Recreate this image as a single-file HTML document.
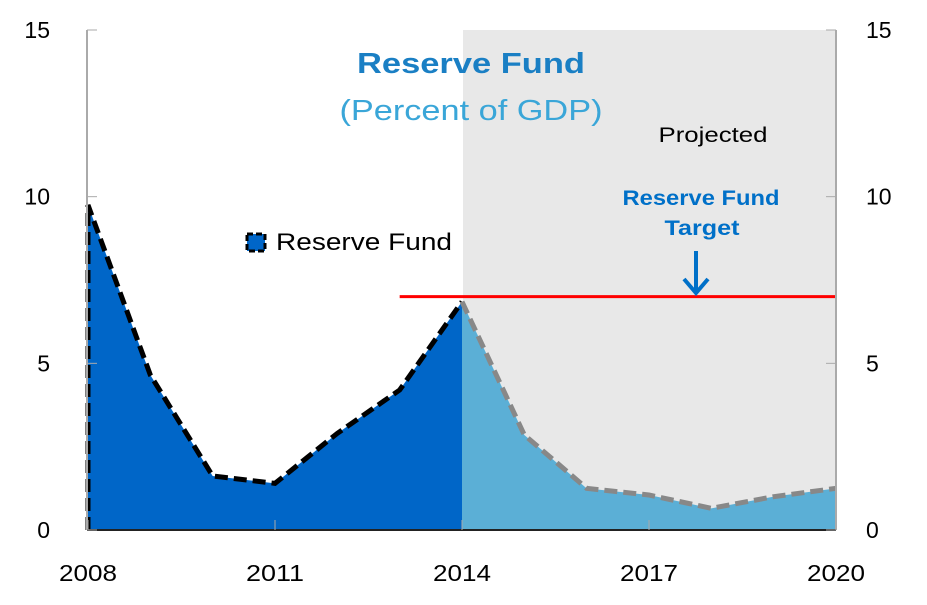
<!DOCTYPE html>
<html><head><meta charset="utf-8"><style>
body{margin:0;background:#fff;width:927px;height:600px;overflow:hidden}
svg{font-family:"Liberation Sans","DejaVu Sans",sans-serif}
</style></head><body>
<svg id="c" width="927" height="600">
<rect x="463" y="30" width="373" height="500" fill="#e8e8e8"/>
<g id="g"></g>
<text x="471" y="73" text-anchor="middle" font-size="29" font-weight="bold" fill="#1a7fc4" textLength="228" lengthAdjust="spacingAndGlyphs">Reserve Fund</text>
<text x="471" y="120" text-anchor="middle" font-size="29" fill="#3aa6d8" textLength="263" lengthAdjust="spacingAndGlyphs">(Percent of GDP)</text>
<text x="713" y="142" text-anchor="middle" font-size="21" fill="#000" textLength="109" lengthAdjust="spacingAndGlyphs">Projected</text>
<text x="701" y="205" text-anchor="middle" font-size="21" font-weight="bold" fill="#0070c8" textLength="157" lengthAdjust="spacingAndGlyphs">Reserve Fund</text>
<text x="702" y="235" text-anchor="middle" font-size="21" font-weight="bold" fill="#0070c8" textLength="75" lengthAdjust="spacingAndGlyphs">Target</text>
<g stroke="#0070c8" stroke-width="4" fill="none"><line x1="696" y1="251" x2="696" y2="293"/><polyline points="684,279 696,293 708,279"/></g>
<g><rect x="247" y="234" width="18" height="17" fill="#0066c8" stroke="#000" stroke-width="3" stroke-dasharray="6,3"/><text x="276" y="250" font-size="24" fill="#000" textLength="176" lengthAdjust="spacingAndGlyphs">Reserve Fund</text></g>
</svg>
<script>
const years=[2008,2009,2010,2011,2012,2013,2014,2015,2016,2017,2018,2019,2020];
const fund=[9.75,4.65,1.62,1.4,2.9,4.2,6.85,2.85,1.25,1.05,0.65,1.0,1.25];
const target=7;
const targetStart=2013;
const projStart=2014;
const yTicks=[0,5,10,15];
const xTicks=[2008,2011,2014,2017,2020];
const X=y=>88+(y-2008)*(836-88)/12;
const Y=v=>530-v*500/15;
const g=document.getElementById('g');
const NS='http://www.w3.org/2000/svg';
function mk(t,a,p){const e=document.createElementNS(NS,t);for(const k in a)e.setAttribute(k,a[k]);(p||g).appendChild(e);return e;}
const pi=years.indexOf(projStart);
let h=years.slice(0,pi+1).map((y,i)=>X(y)+','+Y(fund[i])).join(' ');
let a=mk('polygon',{points:X(years[0])+','+Y(0)+' '+h+' '+X(projStart)+','+Y(0),fill:'#0066c8'});


let h2=years.slice(pi).map((y,i)=>X(y)+','+Y(fund[pi+i])).join(' ');
let b=mk('polygon',{points:X(projStart)+','+Y(0)+' '+h2+' '+X(2020)+','+Y(0),fill:'#5bafd6'});


let l1=mk('polyline',{points:X(years[0])+','+Y(0)+' '+h,fill:'none',stroke:'#000','stroke-width':5,'stroke-dasharray':'13,6'});


let l2=mk('polyline',{points:h2,fill:'none',stroke:'#888','stroke-width':5,'stroke-dasharray':'13,6'});


let tl=mk('line',{x1:X(targetStart),x2:836,y1:Y(target),y2:Y(target),stroke:'#f00','stroke-width':3});


mk('line',{x1:87,x2:87,y1:30,y2:530,stroke:'#aaa','stroke-width':2});
mk('line',{x1:836,x2:836,y1:30,y2:530,stroke:'#aaa','stroke-width':2});
mk('line',{x1:87,x2:836,y1:530,y2:530,stroke:'#222','stroke-width':2});
yTicks.forEach(v=>{
 mk('line',{x1:87,x2:97,y1:Y(v),y2:Y(v),stroke:'#aaa'});
 mk('line',{x1:826,x2:836,y1:Y(v),y2:Y(v),stroke:'#aaa'});
 let t=mk('text',{x:50,y:Y(v)+8,'text-anchor':'end','font-size':23});t.textContent=v;
 
 
 let t2=mk('text',{x:866,y:Y(v)+8,'font-size':23});t2.textContent=v;
 
 
});
xTicks.forEach(v=>{
 mk('line',{x1:X(v),x2:X(v),y1:520,y2:530,stroke:'#aaa'});
 let t=mk('text',{x:X(v),y:581,'text-anchor':'middle','font-size':23,textLength:58,lengthAdjust:'spacingAndGlyphs'});t.textContent=v;
 
 
});
</script>
</body></html>
